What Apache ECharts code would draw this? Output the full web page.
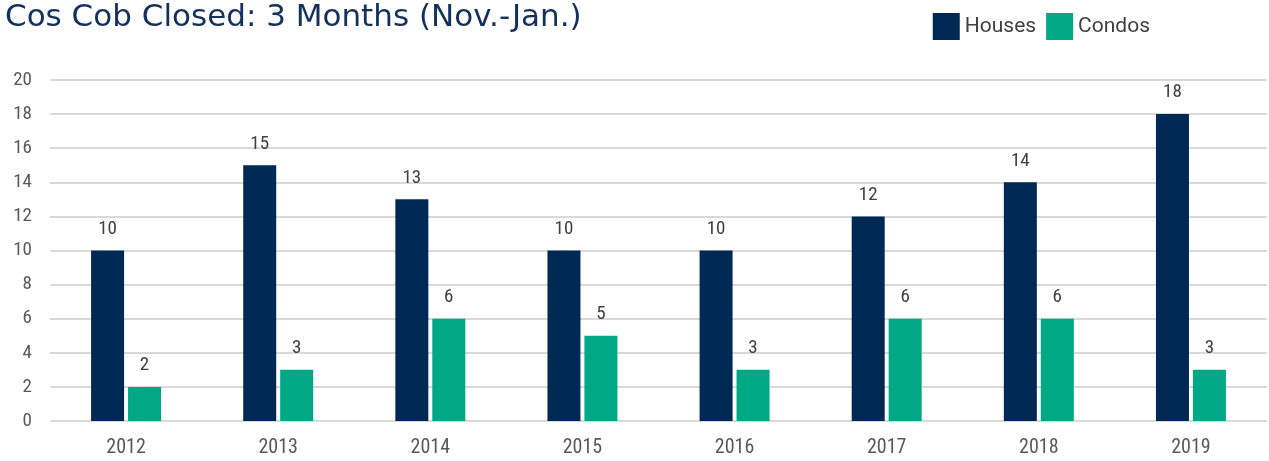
<!DOCTYPE html>
<html>
<head>
<meta charset="utf-8">
<script src="https://cdn.jsdelivr.net/npm/echarts@6/dist/echarts.min.js"></script>
<style>
    html, body { margin: 0; padding: 0; background: #fff; }
    #main { width: 1269px; height: 461px; }
</style>
</head>
<body>
<div id="main"></div>
<script>
var years = ['2012', '2013', '2014', '2015', '2016', '2017', '2018', '2019'];
var houses = [10, 15, 13, 10, 10, 12, 14, 18];
var condos = [2, 3, 6, 5, 3, 6, 6, 3];

var chartDom = document.getElementById('main');
var myChart = echarts.init(chartDom);
var labelFont = '"Liberation Sans Narrow", "Roboto Condensed", sans-serif';

var option = {
    animation: false,
    title: {
        text: 'Cos Cob Closed: 3 Months (Nov.-Jan.)',
        left: 0,
        top: -3,
        textStyle: {
            color: '#13315c',
            fontSize: 31,
            fontWeight: 'normal',
            fontFamily: '"DejaVu Sans", sans-serif'
        }
    },
    legend: {
        right: 114,
        top: 8,
        icon: 'rect',
        itemWidth: 27,
        itemHeight: 27,
        itemGap: 10,
        textStyle: { color: '#404040', fontSize: 21, fontFamily: 'Roboto, sans-serif' },
        data: ['Houses', 'Condos']
    },
    grid: { left: 50, right: 2, top: 80, bottom: 40 },
    xAxis: {
        type: 'category',
        data: years,
        axisLine: { show: false },
        axisTick: { show: false },
        axisLabel: { color: '#595959', fontSize: 20, margin: 17, fontFamily: labelFont }
    },
    yAxis: {
        type: 'value',
        min: 0,
        max: 20,
        interval: 2,
        axisLabel: { color: '#595959', fontSize: 19, margin: 18, fontFamily: labelFont },
        splitLine: { lineStyle: { color: '#d9d9d9', width: 2 } }
    },
    series: [
        {
            name: 'Houses',
            type: 'bar',
            data: houses,
            barWidth: 33,
            barGap: '12%',
            itemStyle: { color: '#002855' },
            label: { show: true, position: 'top', distance: 12, color: '#404040', fontSize: 19, fontFamily: labelFont }
        },
        {
            name: 'Condos',
            type: 'bar',
            data: condos,
            barWidth: 33,
            itemStyle: { color: '#00a886' },
            label: { show: true, position: 'top', distance: 12, color: '#404040', fontSize: 19, fontFamily: labelFont }
        }
    ]
};

myChart.setOption(option);
</script>
</body>
</html>
